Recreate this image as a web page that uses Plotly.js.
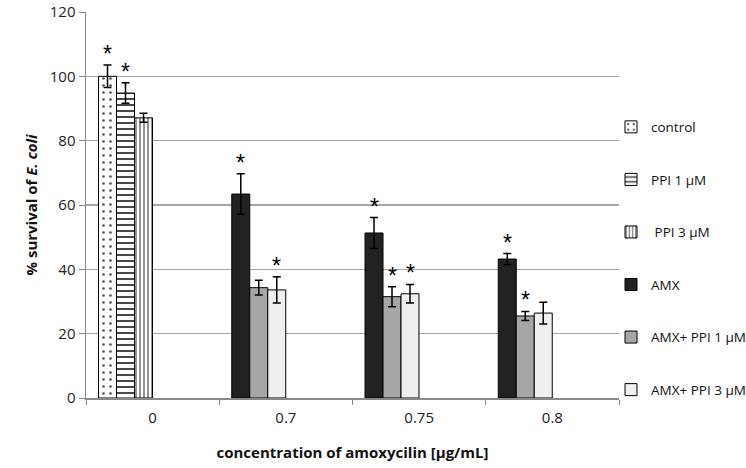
<!DOCTYPE html>
<html>
<head>
<meta charset="utf-8">
<script src="https://cdn.plot.ly/plotly-3.0.1.min.js"></script>
<style>html,body{margin:0;padding:0;background:#fff;}#chart{width:746px;height:468px;}</style>
</head>
<body>
<div id="chart"></div>
<script>
// ---- data ----
const categories = ['0', '0.7', '0.75', '0.8'];
const seriesNames = ['control', 'PPI 1 µM', ' PPI 3 µM', 'AMX', 'AMX+ PPI 1 µM', 'AMX+ PPI 3 µM'];
const controlX = ['0'];
const controlY = [100.0];
const controlErr = [3.5];
const ppi1X = ['0'];
const ppi1Y = [94.8];
const ppi1Err = [3.2];
const ppi3X = ['0'];
const ppi3Y = [87.1];
const ppi3Err = [1.4];
const amxX = ['0.7', '0.75', '0.8'];
const amxY = [63.4, 51.3, 43.2];
const amxErr = [6.3, 4.8, 1.7];
const amxPpi1X = ['0.7', '0.75', '0.8'];
const amxPpi1Y = [34.3, 31.5, 25.5];
const amxPpi1Err = [2.3, 3.1, 1.4];
const amxPpi3X = ['0.7', '0.75', '0.8'];
const amxPpi3Y = [33.6, 32.4, 26.4];
const amxPpi3Err = [4.1, 2.9, 3.4];
// significance markers (true = asterisk)
const controlSig = [true];
const ppi1Sig = [true];
const ppi3Sig = [false];
const amxSig = [true, true, true];
const amxPpi1Sig = [false, true, true];
const amxPpi3Sig = [true, true, false];
const yTicks = [0, 20, 40, 60, 80, 100, 120];

// ---- styling ----
const BAR_W = 0.135;
const START = -0.406;
const seriesDefs = [
  {x: controlX, y: controlY, e: controlErr, sig: controlSig, slot: 0,
   marker: {color: '#ffffff', pattern: {shape: '.', fgcolor: '#555', bgcolor: '#ffffff', size: 7, solidity: 0.12}}},
  {x: ppi1X, y: ppi1Y, e: ppi1Err, sig: ppi1Sig, slot: 1,
   marker: {color: '#ffffff', pattern: {shape: '-', fgcolor: '#333', bgcolor: '#ffffff', size: 6, solidity: 0.3}}},
  {x: ppi3X, y: ppi3Y, e: ppi3Err, sig: ppi3Sig, slot: 2,
   marker: {color: '#ffffff', pattern: {shape: '|', fgcolor: '#777', bgcolor: '#ffffff', size: 4, solidity: 0.4}}},
  {x: amxX, y: amxY, e: amxErr, sig: amxSig, slot: 0, marker: {color: '#222222'}},
  {x: amxPpi1X, y: amxPpi1Y, e: amxPpi1Err, sig: amxPpi1Sig, slot: 1, marker: {color: '#a6a6a6'}},
  {x: amxPpi3X, y: amxPpi3Y, e: amxPpi3Err, sig: amxPpi3Sig, slot: 2, marker: {color: '#efefef'}}
];

const traces = [];
const annotations = [];
seriesDefs.forEach((s, i) => {
  const off = START + s.slot * BAR_W;
  const m = Object.assign({}, s.marker, {line: {color: '#000', width: 1}});
  traces.push({
    type: 'bar', name: seriesNames[i], x: s.x, y: s.y,
    width: s.x.map(() => BAR_W), offset: s.x.map(() => off),
    marker: m, legendgroup: 'g' + i,
    error_y: {type: 'data', array: s.e, visible: true, color: '#000', thickness: 1.5, width: 4},
    hoverinfo: 'skip'
  });
  s.x.forEach((cx, j) => {
    if (!s.sig[j]) return;
    annotations.push({
      xref: 'x', yref: 'y',
      x: categories.indexOf(cx) + off + BAR_W / 2,
      y: s.y[j] + s.e[j],
      text: '*', showarrow: false, yanchor: 'bottom', yshift: -4,
      font: {family: 'Liberation Sans, Arial, sans-serif', size: 23, color: '#000'}
    });
  });
});

const layout = {
  width: 746, height: 468,
  margin: {l: 86, r: 127, t: 12, b: 70, autoexpand: false},
  paper_bgcolor: '#fff', plot_bgcolor: '#fff',
  font: {family: 'Open Sans, Noto Sans, sans-serif', color: '#222'},
  barmode: 'overlay',
  showlegend: true,
  legend: {
    x: 0.985, xanchor: 'left', y: 0.742, yanchor: 'top',
    font: {size: 13.5, color: '#111'}, tracegroupgap: 32,
    itemwidth: 30, bgcolor: 'rgba(0,0,0,0)', traceorder: 'grouped'
  },
  xaxis: {
    type: 'category', categoryorder: 'array', categoryarray: categories,
    range: [-0.5, 3.5], tickson: 'boundaries', ticks: 'outside', ticklen: 5,
    tickcolor: '#888', showline: true, linecolor: '#888', linewidth: 1.5,
    showgrid: false, tickfont: {size: 15}, ticklabelstandoff: 5,
    title: {text: '<b>concentration of amoxycilin [µg/mL]</b>', font: {size: 15, color: '#111'}, standoff: 22}
  },
  yaxis: {
    range: [0, 120], tickvals: yTicks, ticks: 'outside', ticklen: 6, tickcolor: '#888',
    showline: true, linecolor: '#888', linewidth: 1.5,
    showgrid: true, gridcolor: '#a6a6a6', gridwidth: 1.5, zeroline: false,
    tickfont: {size: 15},
    title: {text: '<b>% survival of <i>E. coli</i></b>', font: {size: 15, color: '#111'}, standoff: 8}
  },
  annotations: annotations
};

Plotly.newPlot('chart', traces, layout, {displayModeBar: false, staticPlot: true});
</script>
</body>
</html>
